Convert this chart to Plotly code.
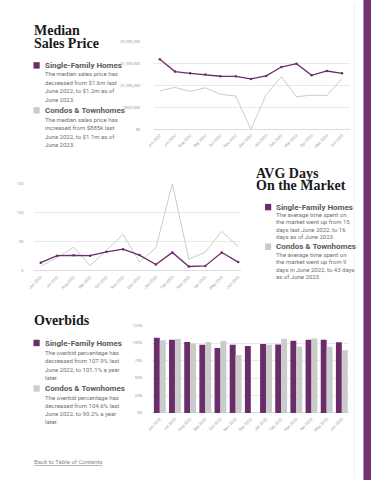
import plotly.graph_objects as go

W, H = 371, 480

months = ["Jun 2022", "Jul 2022", "Aug 2022", "Sep 2022", "Oct 2022", "Nov 2022", "Dec 2022",
          "Jan 2023", "Feb 2023", "Mar 2023", "Apr 2023", "May 2023", "Jun 2023"]

price_sfh = [1600000, 1316000, 1278000, 1248000, 1210000, 1208000, 1150000,
             1218000, 1420000, 1496000, 1233000, 1330000, 1278000]
price_condo = [880000, 955000, 865000, 947000, 800000, 760000, 0,
               790000, 1200000, 744000, 780000, 770000, 1158000]

days_sfh = [14, 26, 26.5, 26, 32.5, 37, 27, 11, 31.5, 7.5, 8.5, 31.5, 15]
days_condo = [8, 22.5, 40.5, 9, 35, 62.5, 15, 39.5, 149, 20, 32, 67.5, 41.5]

overbid_sfh = [107.5, 104.7, 101.4, 97.6, 92.9, 97.6, 95.8, 98.6, 97.8, 103.3, 104.7, 104.7, 101.1]
overbid_condo = [104.2, 106.0, 99.3, 101.4, 103.5, 83.0, None, 97.6, 106.2, 94.8, 106.6, 94.8, 89.6]

price_ticks = [0, 500000, 1000000, 1500000, 2000000]
price_tick_text = ["$0", "$500,000", "$1,000,000", "$1,500,000", "$2,000,000"]
days_ticks = [0, 50, 100, 150]
overbid_ticks = [0, 25, 50, 75, 100, 125]
overbid_tick_text = ["0%", "25%", "50%", "75%", "100%", "125%"]

PURPLE = "#6b2c6a"
GRAY = "#cbcbcb"
TXT = "#707070"
TICK = "#9a9a9a"
GRID = "#e9e9e9"


def px(x):
    return x / W


def py(y):
    return 1 - y / H


fig = go.Figure()

# Chart 1: Median sales price
fig.add_trace(go.Scatter(x=months, y=price_condo, mode="lines", line=dict(color=GRAY, width=1),
                         xaxis="x", yaxis="y", showlegend=False, cliponaxis=False))
fig.add_trace(go.Scatter(x=months, y=price_sfh, mode="lines+markers", line=dict(color=PURPLE, width=1.3),
                         marker=dict(size=2.5, color=PURPLE), xaxis="x", yaxis="y", showlegend=False,
                         cliponaxis=False))

# Chart 2: Days on market
fig.add_trace(go.Scatter(x=months, y=days_condo, mode="lines", line=dict(color=GRAY, width=1),
                         xaxis="x2", yaxis="y2", showlegend=False, cliponaxis=False))
fig.add_trace(go.Scatter(x=months, y=days_sfh, mode="lines+markers", line=dict(color=PURPLE, width=1.3),
                         marker=dict(size=2.5, color=PURPLE), xaxis="x2", yaxis="y2", showlegend=False,
                         cliponaxis=False))

# Chart 3: Overbids
fig.add_trace(go.Bar(x=months, y=overbid_sfh, marker=dict(color=PURPLE, line=dict(width=0)),
                     xaxis="x3", yaxis="y3", showlegend=False))
fig.add_trace(go.Bar(x=months, y=overbid_condo, marker=dict(color=GRAY, line=dict(width=0)),
                     xaxis="x3", yaxis="y3", showlegend=False))

xcommon = dict(type="category", tickangle=-45, showgrid=False, zeroline=False, showline=False,
               ticks="", tickfont=dict(family="Roboto", size=4, color=TICK), fixedrange=True)
ycommon = dict(showgrid=True, gridcolor=GRID, gridwidth=1, zeroline=True, zerolinecolor="#dcdcdc",
               zerolinewidth=1, showline=False, ticks="",
               tickfont=dict(family="Roboto", size=4, color=TICK), fixedrange=True)

fig.update_layout(
    width=W, height=H, margin=dict(l=0, r=0, t=0, b=0),
    paper_bgcolor="white", plot_bgcolor="white",
    barmode="group", bargap=0.22, bargroupgap=0,
    hovermode=False,
    xaxis=dict(xcommon, domain=[px(150), px(350)], range=[-0.37, 12.55], anchor="y",
               ticklabelstandoff=2),
    yaxis=dict(ycommon, domain=[py(127.7), py(39)], range=[0, 2000000], anchor="x",
               tickvals=price_ticks, ticktext=price_tick_text, ticklabelstandoff=13),
    xaxis2=dict(xcommon, domain=[px(28), px(239)], range=[-0.38, 12.2], anchor="y2",
                ticklabelstandoff=2),
    yaxis2=dict(ycommon, domain=[py(270.7), py(182)], range=[0, 150], anchor="x2",
                tickvals=days_ticks, ticklabelstandoff=10),
    xaxis3=dict(xcommon, domain=[px(148), px(349)], range=[-0.5, 12.5], anchor="y3",
                ticklabelstandoff=2),
    yaxis3=dict(ycommon, domain=[py(414.3), py(326)], range=[0, 125], anchor="x3",
                tickvals=overbid_ticks, ticktext=overbid_tick_text, ticklabelstandoff=9),
)

shapes = []
annotations = []


def title(text, x, ymid):
    annotations.append(dict(text=f"<b>{text}</b>", x=px(x), y=py(ymid), xref="paper", yref="paper",
                            xanchor="left", yanchor="middle", showarrow=False, borderpad=0,
                            font=dict(family="Liberation Serif", size=14, color="#1a1a1a")))


def legend_block(x, sq_top, color, label, lines, first_line_y, spacing):
    shapes.append(dict(type="rect", xref="paper", yref="paper", x0=px(x), x1=px(x + 6.3),
                       y0=py(sq_top + 6.5), y1=py(sq_top), fillcolor=color, line=dict(width=0)))
    annotations.append(dict(text=f"<b>{label}</b>", x=px(x + 10.5), y=py(sq_top + 3.4),
                            xref="paper", yref="paper", xanchor="left", yanchor="middle",
                            showarrow=False, borderpad=0,
                            font=dict(family="Roboto", size=8, color="#5a5a5a")))
    for i, ln in enumerate(lines):
        annotations.append(dict(text=ln, x=px(x + 10.5), y=py(first_line_y + i * spacing),
                                xref="paper", yref="paper", xanchor="left", yanchor="middle",
                                showarrow=False, borderpad=0,
                                font=dict(family="Roboto", size=6, color=TXT)))


# Median Sales Price block
title("Median", 26, 27.5)
title("Sales Price", 26, 40.5)
legend_block(27, 59.8, PURPLE, "Single-Family Homes",
             ["The median sales price has", "decreased from $1.6m last",
              "June 2022, to $1.2m as of", "June 2023."], 71.7, 8.5)
legend_block(27, 105.3, GRAY, "Condos & Townhomes",
             ["The median sales price has", "increased from $885k last",
              "June 2022, to $1.1m as of", "June 2023."], 117.7, 8.4)

# AVG Days block
title("AVG Days", 253, 172.5)
title("On the Market", 253, 184)
legend_block(263, 203, PURPLE, "Single-Family Homes",
             ["The average time spent on", "the market went up from 15",
              "days last June 2022, to 16", "days as of June 2023."], 213.3, 7.7)
legend_block(263, 243, GRAY, "Condos & Townhomes",
             ["The average time spent on", "the market went up from 9",
              "days in June 2022, to 43 days", "as of June 2023."], 254, 7.6)

# Overbids block
title("Overbids", 26, 321)
legend_block(27, 340.3, PURPLE, "Single-Family Homes",
             ["The overbid percentage has", "decreased from 107.9% last",
              "June 2022, to 101.1% a year", "later."], 353.3, 8.35)
legend_block(27, 386.3, GRAY, "Condos & Townhomes",
             ["The overbid percentage has", "decreased from 104.6% last",
              "June 2022, to 90.2% a year", "later."], 398.3, 8.2)

annotations.append(dict(text="<u>Back to Table of Contents</u>", x=px(26.5), y=py(463.3),
                        xref="paper", yref="paper", xanchor="left", yanchor="middle",
                        showarrow=False, borderpad=0,
                        font=dict(family="Roboto", size=6, color="#8a8a8a")))

# faint page edge line and purple side bar
shapes.append(dict(type="line", xref="paper", yref="paper", x0=px(354), x1=px(354), y0=0, y1=1,
                   line=dict(color="#f0f0f0", width=1)))
shapes.append(dict(type="rect", xref="paper", yref="paper", x0=px(363.3), x1=1.01, y0=-0.01, y1=1.01,
                   fillcolor="#6e3470", line=dict(width=0)))

fig.update_layout(shapes=shapes, annotations=annotations)

fig.write_html("out.html", config={"displayModeBar": False, "staticPlot": True},
               post_script="document.body.style.margin='0';document.body.style.overflow='hidden';")
